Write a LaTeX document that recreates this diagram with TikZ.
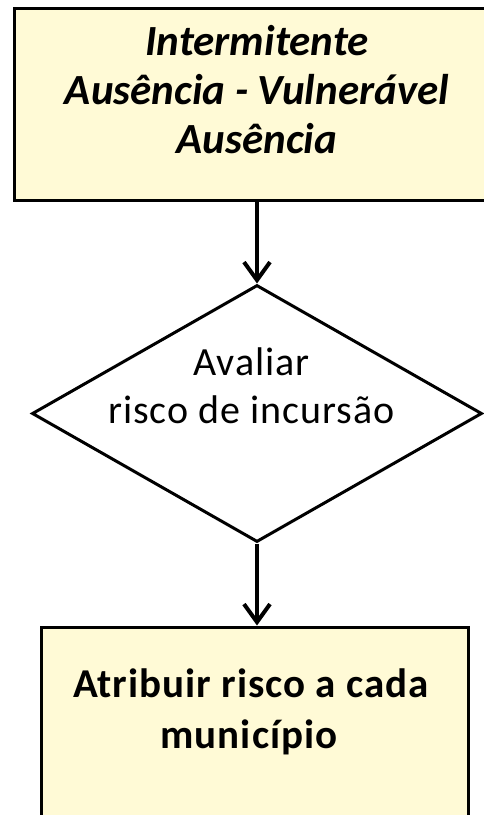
\documentclass[tikz,border=0pt]{standalone}
\usepackage{fontspec}
\setmainfont{Carlito}
\newfontfamily\spacedfont[LetterSpace=2.5]{Carlito}
\usetikzlibrary{shapes.geometric,arrows.meta}
\definecolor{boxfill}{RGB}{255,250,214}
\tikzset{
  box/.style={draw=black,fill=boxfill,line width=3pt,inner sep=0pt,rectangle},
  decision/.style={draw=black,fill=white,line width=3pt,shape=diamond,inner sep=0pt},
  flow/.style={line width=4pt,-{Straight Barb[length=18pt,width=26pt]}},
  toptxt/.style={anchor=base,inner sep=0pt,font=\fontsize{43}{49}\selectfont\bfseries\itshape},
  midtxt/.style={anchor=base,inner sep=0pt,font=\spacedfont\fontsize{40}{48}\selectfont},
  bottxt/.style={anchor=base,inner sep=0pt,font=\spacedfont\fontsize{41}{51}\selectfont\bfseries}
}
\begin{document}
\begin{tikzpicture}[x=1pt,y=-1pt]
\useasboundingbox (0,0) rectangle (483,815);
\node[box,minimum width=486pt,minimum height=192pt] (top) at (257,104) {};
\node[toptxt] (t1) at (257,55) {Intermitente};
\node[toptxt] (t2) at (257,104) {Ausência - Vulnerável};
\node[toptxt] (t3) at (257,153) {Ausência};
\node[decision,minimum width=450pt,minimum height=257pt] (dec) at (257,413.5) {};
\node[midtxt] (d1) at (251.5,375) {Avaliar};
\node[midtxt] (d2) at (251.5,423) {risco de incursão};
\node[box,minimum width=427pt,minimum height=230pt] (bot) at (254.5,742) {};
\node[bottxt] (b1) at (251,697) {Atribuir risco a cada};
\node[bottxt] (b2) at (249,748) {município};
\draw[flow] (top.south -| dec.north) -- (dec.north);
\draw[flow] (dec.south) -- (dec.south |- bot.north);
\end{tikzpicture}
\end{document}
